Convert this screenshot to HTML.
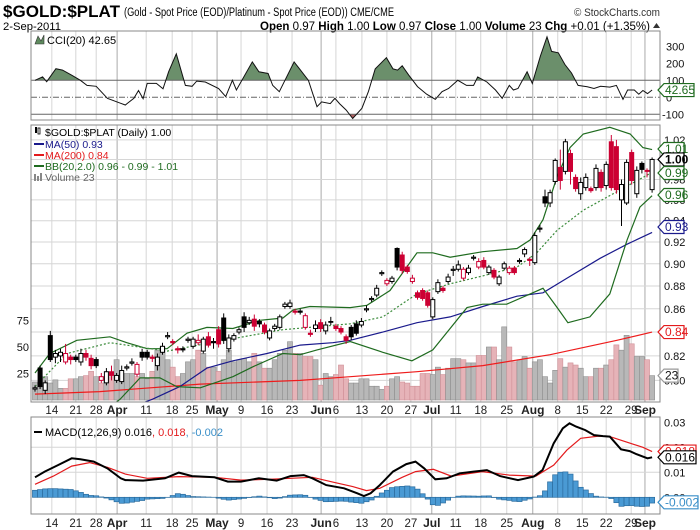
<!DOCTYPE html>
<html><head><meta charset="utf-8">
<style>
body{margin:0;background:#fff;width:700px;height:530px;overflow:hidden}
svg{display:block;font-family:"Liberation Sans",Arial,sans-serif}
.ax{font-size:11px;fill:#111}
.lg{font-size:10.5px}
</style></head>
<body>
<svg id="chart" width="700" height="530" viewBox="0 0 700 530">
<defs>
<clipPath id="cpC"><rect x="31" y="31" width="629" height="89"/></clipPath>
<clipPath id="cpCup"><rect x="31" y="31" width="629" height="49.3"/></clipPath>
<clipPath id="cpCdn"><rect x="31" y="114.3" width="629" height="6"/></clipPath>
<clipPath id="cpP"><rect x="31" y="125" width="629" height="277"/></clipPath>
<clipPath id="cpM"><rect x="31" y="417" width="629" height="97"/></clipPath>
</defs>
<rect x="0" y="0" width="700" height="530" fill="#fff"/>
<text x="3" y="17" font-size="17" font-weight="bold" textLength="117" lengthAdjust="spacingAndGlyphs">$GOLD:$PLAT</text>
<text x="124" y="16" font-size="11.5" textLength="270" lengthAdjust="spacingAndGlyphs">(Gold - Spot Price (EOD)/Platinum  - Spot Price (EOD)) CME/CME</text>
<text x="574" y="16" font-size="11" fill="#333" textLength="86" lengthAdjust="spacingAndGlyphs">© StockCharts.com</text>
<text x="3" y="30" font-size="11" textLength="58" lengthAdjust="spacingAndGlyphs">2-Sep-2011</text>
<text x="260" y="30" font-size="11.5" textLength="390" lengthAdjust="spacingAndGlyphs"><tspan font-weight="bold">Open</tspan> 0.97 <tspan font-weight="bold">High</tspan> 1.00 <tspan font-weight="bold">Low</tspan> 0.97 <tspan font-weight="bold">Close</tspan> 1.00 <tspan font-weight="bold">Volume</tspan> 23 <tspan font-weight="bold">Chg</tspan> +0.01 (+1.35%)</text>
<polygon points="653,28 660,28 656.5,23" fill="#333"/>

<g id="grid"></g>
<g id="cci"></g>
<g id="vol" clip-path="url(#cpP)"></g>
<g id="lines" clip-path="url(#cpP)"></g>
<g id="price" clip-path="url(#cpP)"></g>
<g id="macd"></g>
<g id="axes"></g>

<rect x="31" y="31" width="629" height="89" fill="none" stroke="#888"/>
<rect x="31" y="125" width="629" height="277" fill="none" stroke="#888"/>
<rect x="31" y="417" width="629" height="97" fill="none" stroke="#888"/>

<g>
<polygon points="35,44 38,36 41,41 44,35 44,44" fill="#5e8a5e" stroke="#333" stroke-width="0.6"/>
<text x="47" y="44" font-size="11">CCI(20) 42.65</text>
</g>
<g class="lg">
<g><rect x="35" y="127" width="2" height="6" fill="#000"/><rect x="38" y="128" width="2" height="6" fill="none" stroke="#000" stroke-width="0.8"/><text x="45" y="136">$GOLD:$PLAT (Daily) 1.00</text></g>
<g><line x1="34" y1="144" x2="44" y2="144" stroke="#1a1a8c" stroke-width="2"/><text x="45" y="148" fill="#1a1a8c">MA(50) 0.93</text></g>
<g><line x1="34" y1="155" x2="44" y2="155" stroke="#e31a1c" stroke-width="2"/><text x="45" y="159" fill="#e31a1c">MA(200) 0.84</text></g>
<g><line x1="34" y1="166" x2="44" y2="166" stroke="#1f6b1f" stroke-width="2"/><text x="45" y="170" fill="#1f6b1f">BB(20,2.0) 0.96 - 0.99 - 1.01</text></g>
<g><rect x="34" y="174" width="2" height="7" fill="#888"/><rect x="37" y="176" width="2" height="5" fill="#888"/><rect x="40" y="173" width="2" height="8" fill="#888"/><text x="45" y="181" fill="#666">Volume 23</text></g>
</g>
<g>
<line x1="34" y1="432" x2="42" y2="432" stroke="#000" stroke-width="2"/>
<text x="45" y="436" font-size="11">MACD(12,26,9) 0.016<tspan fill="#e31a1c">, 0.018</tspan><tspan fill="#3a8fc8">, -0.002</tspan></text>
</g>
<g id="markers"></g>
</svg>
<script>
// ---------- data ----------
const opens=[.793,.810,.792,.837,.819,.820,.815,.819,.819,.815,.822,.818,.817,.800,.798,.807,.800,.799,.810,.814,.805,.823,.823,.819,.812,.823,.836,.832,.826,.826,.833,.828,.831,.824,.836,.832,.842,.852,.826,.834,.840,.853,.848,.851,.849,.846,.835,.843,.844,.862,.862,.858,.858,.844,.839,.843,.848,.841,.849,.845,.843,.836,.844,.847,.846,.859,.868,.872,.891,.882,.884,.914,.908,.897,.884,.874,.876,.874,.853,.875,.878,.884,.894,.895,.887,.892,.905,.897,.903,.892,.894,.882,.896,.892,.896,.902,.909,.904,.901,.932,.963,.957,.978,.992,.988,1.006,.982,.966,.972,.971,.972,.987,.974,1.018,1.013,.960,.957,1.007,.966,.996,.989,.970];
const closes=[.794,.795,.798,.817,.822,.823,.822,.817,.817,.822,.819,.812,.812,.803,.807,.804,.804,.808,.811,.815,.813,.819,.819,.818,.819,.828,.837,.831,.825,.825,.834,.834,.833,.834,.829,.831,.830,.833,.835,.837,.842,.844,.850,.845,.847,.840,.841,.845,.853,.864,.865,.857,.857,.854,.838,.846,.843,.846,.849,.843,.840,.833,.836,.839,.849,.860,.869,.878,.892,.885,.887,.897,.894,.893,.887,.870,.869,.863,.868,.883,.876,.888,.895,.899,.895,.896,.906,.902,.897,.897,.888,.888,.900,.896,.892,.903,.913,.903,.926,.933,.957,.967,.999,.979,1.018,.988,.971,.977,.982,.969,.991,.972,.995,.972,.970,.975,.997,.979,.989,.990,.988,1.000];
const highs=[.796,.812,.800,.841,.825,.826,.830,.821,.821,.826,.825,.821,.819,.806,.810,.812,.806,.812,.813,.818,.815,.826,.825,.821,.822,.831,.840,.834,.828,.828,.836,.836,.838,.836,.840,.835,.845,.856,.838,.839,.844,.857,.853,.855,.851,.848,.843,.847,.855,.866,.868,.860,.860,.856,.842,.850,.851,.849,.853,.847,.845,.838,.846,.850,.852,.863,.871,.881,.894,.887,.889,.915,.911,.899,.890,.876,.878,.876,.870,.886,.880,.891,.898,.903,.897,.899,.908,.905,.906,.899,.896,.890,.902,.898,.898,.905,.915,.906,.929,.936,.970,.970,1.001,1.010,1.021,1.010,.985,.982,.986,.973,.995,.990,.998,1.025,1.020,.980,1.000,1.010,.993,.998,.991,1.002];
const lows=[.791,.793,.789,.815,.814,.815,.813,.813,.815,.812,.816,.809,.810,.798,.796,.800,.798,.797,.808,.812,.803,.816,.817,.815,.808,.821,.834,.829,.822,.823,.831,.826,.829,.822,.827,.826,.827,.830,.823,.832,.838,.840,.846,.841,.844,.838,.833,.841,.842,.860,.860,.855,.855,.842,.836,.840,.840,.838,.846,.841,.838,.830,.833,.837,.844,.857,.866,.870,.889,.880,.882,.894,.891,.891,.882,.868,.867,.861,.851,.873,.874,.882,.889,.893,.885,.890,.903,.895,.895,.890,.886,.880,.894,.890,.890,.900,.906,.898,.899,.929,.953,.953,.975,.970,.985,.975,.968,.960,.969,.967,.969,.968,.970,.969,.966,.935,.955,.975,.962,.986,.982,.967];
const volumes=[17,17,22,16,19,11,11,20,20,22,23,27,22,16,22,22,38,25,25,25,22,25,20,27,47,50,38,31,22,25,36,38,47,44,31,31,27,38,47,36,38,39,36,44,36,30,30,38,44,47,55,44,44,41,41,38,14,25,22,24,33,20,16,16,20,20,13,13,10,13,20,22,17,16,13,13,25,25,24,31,24,30,39,39,38,35,35,42,42,50,50,38,69,50,36,38,41,30,36,38,22,16,28,39,31,35,33,30,22,22,30,30,33,38,52,47,61,53,41,41,38,23];

const ma50Idx=[10,23.1,28.4,33.7,38.8,45.5,52,58.4,61.8,68.2,74.9,81.4,87.8,94.5,99.6,104.3,110.8,116.1,121];
const ma50Val=[.765,.785,.795,.810,.816,.822,.829,.831,.833,.840,.848,.853,.862,.871,.874,.887,.905,.918,.929];
const ma200Idx=[0,12.7,32.4,52,61.8,74.9,87.8,101,114.1,121];
const ma200Val=[.789,.791,.797,.800,.803,.807,.812,.821,.833,.840];
const bbUpIdx=[0,2.9,8.2,14.7,18,22,25.9,29.8,33.7,38.8,44.1,48.6,50.6,53.9,61.8,65.1,69.6,74.9,78,81.4,87.8,94.5,97.1,99.6,102.4,104.9,107.5,112.7,116.7,119.2,121];
const bbUpVal=[.806,.822,.833,.836,.831,.826,.826,.839,.844,.843,.850,.852,.859,.862,.861,.863,.876,.910,.910,.906,.911,.914,.922,.941,.983,1.012,1.026,1.033,1.026,1.012,1.010];
const bbLoIdx=[12,16.7,20.6,24.5,27.8,32.4,38.8,42.7,48.6,52,55.3,61.8,68.2,73.9,78,81.4,84.7,87.8,92.5,97.1,99.6,102.4,104.5,108.8,112.7,116.1,118.6,121];
const bbLoVal=[.770,.785,.802,.802,.795,.794,.803,.811,.822,.821,.825,.832,.823,.816,.825,.843,.861,.864,.864,.873,.878,.861,.848,.853,.873,.922,.953,.964];
const bbMidIdx=[0,6.3,14.7,25.9,35.7,48.6,61.8,68.2,74.9,81.4,87.8,94.5,98.4,102.4,107.5,114.1,121];
const bbMidVal=[.795,.822,.831,.824,.832,.842,.847,.853,.873,.882,.889,.897,.910,.931,.950,.968,.987];

const cciIdx=[0,1.5,2.3,4.1,5.4,7.2,8.9,10.2,12,14.2,16.8,17.7,19.4,20.3,21.2,22,23.8,25.1,26.2,27.7,29.5,30.8,31.7,33.4,36,37.4,38.7,39.5,42.6,43.9,45.7,46.6,47.9,50.8,51.8,53.6,55.3,56.2,57.9,58.8,59.7,61,62.3,64.1,65.4,66.7,68.9,70.2,71.1,72,73.3,75,76.8,78.5,79.8,81.1,82.9,84.6,86,86.8,88.6,90.3,91.6,93,93.8,94.7,96.5,97.5,99.1,100.4,101.3,102.6,103.9,105.2,106.5,108.3,109.6,110.9,112.7,114,115.3,116.2,117.5,118.4,119.2,120.1,121];
const cciVal=[100,120,92,168,160,130,100,70,65,-6,-35,-45,-6,40,-8,82,82,50,150,255,70,65,95,90,52,4,100,43,208,150,140,70,33,208,170,100,-55,-27,-37,-6,-37,-75,-125,-65,35,167,233,167,160,185,130,63,18,-12,33,52,100,70,70,120,90,43,-6,70,43,52,150,82,243,356,270,262,193,143,70,62,52,65,60,70,-12,43,43,18,40,22,43];

const macdIdx=[0,1.9,4.5,7.2,8.9,11.5,14.2,16.8,17.7,21.2,25.5,28.2,30.8,35.2,37.8,40.4,43.9,47.4,50.1,52.7,54.4,57.1,60.6,63.2,64.5,65.8,67.6,70.2,72.8,74.6,76.3,78.5,80.7,83.3,86,88.6,91.2,94.7,97.8,99.5,101.7,103.5,104.8,106.1,107.9,109.6,111.4,112.7,114.9,116.6,117.9,120.1,121];
const macdVal=[.008,.0103,.0129,.0156,.0152,.0143,.0116,.0076,.0069,.0067,.0076,.0099,.0085,.008,.0063,.0063,.0076,.0067,.0085,.0089,.0076,.0049,.0036,.0016,.0005,.0016,.0049,.0103,.0133,.0143,.0116,.0072,.0076,.0096,.0103,.0109,.0085,.0069,.0083,.0109,.0216,.0276,.0296,.0283,.0269,.0249,.0245,.0243,.0192,.0185,.0173,.0156,.016];
const sigIdx=[0,3.6,7.2,10.7,14.2,17.7,22,28.2,35.2,40.4,45.7,50.1,54.4,58.8,62.3,65,67.6,72,74.6,78.1,81.6,87.7,93,98.2,101.7,104.3,107,110.5,112.7,115.7,119.2,121];
const sigVal=[.0052,.0085,.0125,.0139,.012,.0093,.0076,.0083,.008,.0069,.0072,.0076,.008,.0059,.0043,.0027,.0036,.008,.0103,.0112,.0085,.0103,.0089,.0085,.0129,.0189,.0236,.0245,.0243,.0223,.02,.0183];

const tickIdx=[3.3,8,12,16.1,21.8,26.9,30.8,35.7,40.4,45.5,50.4,56.1,59,64.1,69,73.7,77.8,82.5,87.4,92.5,97.6,102.5,107.3,112,116.9,119.6];
const tickLabels=['14','21','28','Apr','11','18','25','May','9','16','23','Jun','6','13','20','27','Jul','11','18','25','Aug','8','15','22','29','Sep'];
const priceTicks=[1.02,1.00,0.98,0.96,0.94,0.92,0.90,0.88,0.86,0.84,0.82,0.80];
const volTicks=[25,50,75];
const cciTicks=[300,200,100,0,-100];
const macdTicks=[0.03,0.02,0.01,0.00];

// ---------- axes ----------
const xI=i=>35+5.1*i;
const yP=p=>242-990*Math.log(p/0.92);
const yV=v=>400-v*1.06;
const yC=c=>97.3-c*0.17;
const yM=m=>497.3-m*2500;

const NS='http://www.w3.org/2000/svg';
function mk(tag,attrs,parent){const e=document.createElementNS(NS,tag);for(const k in attrs)e.setAttribute(k,attrs[k]);parent.appendChild(e);return e;}
const G=id=>document.getElementById(id);
function interp(idx,val,i){if(i<=idx[0])return val[0];for(let k=1;k<idx.length;k++){if(i<=idx[k]){const t=(i-idx[k-1])/(idx[k]-idx[k-1]);return val[k-1]+t*(val[k]-val[k-1]);}}return val[val.length-1];}
function pts(idx,val,f){return idx.map((i,k)=>xI(i).toFixed(1)+','+f(val[k]).toFixed(1)).join(' ');}

// grid
const grid=G('grid');
tickIdx.forEach((ti,k)=>{
  const month=isNaN(+tickLabels[k]);
  [[31,120],[125,402],[417,514]].forEach(([a,b])=>{
    const l=mk('line',{x1:xI(ti),x2:xI(ti),y1:a,y2:b,stroke:month?'#aaa':'#d6d6d6','stroke-width':1},grid);
    
    
  });
});
priceTicks.forEach(p=>{
  const l=mk('line',{x1:31,x2:660,y1:yP(p),y2:yP(p),stroke:'#d6d6d6'},grid);
  
  
});
[0.01,0.02].forEach(m=>{
  const l=mk('line',{x1:31,x2:660,y1:yM(m),y2:yM(m),stroke:'#d6d6d6'},grid);
  
  
});

// axis labels
const axes=G('axes');
tickIdx.forEach((ti,k)=>{
  const month=isNaN(+tickLabels[k]);
  [414,527].forEach(y=>{
    const t=mk('text',{x:xI(ti),y:y,'text-anchor':'middle','font-size':month?12:11.5,'font-weight':month?'bold':'normal',fill:'#222'},axes);
    t.textContent=tickLabels[k];
    
    
  });
});
priceTicks.forEach(p=>{
  const t=mk('text',{x:664,y:yP(p)+4,class:'ax'},axes);
  t.textContent=p.toFixed(2);
  
  
});
volTicks.forEach(v=>{
  const t=mk('text',{x:29,y:yV(v)+4,class:'ax','text-anchor':'end'},axes);
  t.textContent=v;
  
  
});
cciTicks.forEach(c=>{
  const t=mk('text',{x:c<0?662:666,y:yC(c)+4,class:'ax'},axes);
  t.textContent=c;
  
  
});
macdTicks.forEach(m=>{
  const t=mk('text',{x:664,y:yM(m)+4,class:'ax'},axes);
  t.textContent=m.toFixed(2);
  
  
});

// CCI
const cci=G('cci');
const cp=pts(cciIdx,cciVal,yC);
const x0=xI(cciIdx[0]),x1=xI(cciIdx[cciIdx.length-1]);
const fu=mk('polygon',{points:cp+` ${x1},${yC(100)} ${x0},${yC(100)}`,fill:'#6b8f6b','clip-path':'url(#cpCup)'},cci);


const fd=mk('polygon',{points:cp+` ${x1},${yC(-100)} ${x0},${yC(-100)}`,fill:'#b06060','clip-path':'url(#cpCdn)'},cci);


[100,-100].forEach(c=>{
  const l=mk('line',{x1:31,x2:660,y1:yC(c),y2:yC(c),stroke:'#666'},cci);
  
  
});
const z=mk('line',{x1:31,x2:660,y1:yC(0),y2:yC(0),stroke:'#666','stroke-dasharray':'6,2,1,2'},cci);


const cl=mk('polyline',{points:cp,fill:'none',stroke:'#111','stroke-width':1,'clip-path':'url(#cpC)'},cci);



// volume
const vol=G('vol');
volumes.forEach((v,i)=>{
  const down=i>0&&closes[i]<closes[i-1];
  const r=mk('rect',{x:xI(i)-2.55,y:yV(v),width:5.1,height:yV(0)-yV(v),fill:down?'#e6b3b8':'#b8b8b8',stroke:down?'#cf8f96':'#8e8e8e','stroke-width':0.6},vol);
  
  
});

// overlay lines
const lines=G('lines');
function poly(idx,val,stroke,w,dash,name){
  const p=mk('polyline',{points:pts(idx,val,yP),fill:'none',stroke:stroke,'stroke-width':w},lines);
  if(dash)p.setAttribute('stroke-dasharray',dash);
  
  
}
poly(ma200Idx,ma200Val,'#ee1c1c',1.2,null,'ma200-line');
poly(ma50Idx,ma50Val,'#1a1a8c',1.2,null,'ma50-line');
poly(bbUpIdx,bbUpVal,'#1f6b1f',1.2,null,'bb-upper-line');
poly(bbLoIdx,bbLoVal,'#1f6b1f',1.2,null,'bb-lower-line');
poly(bbMidIdx,bbMidVal,'#3c8c3c',1.2,'2,2','bb-middle-line');

// candles
const price=G('price');
opens.forEach((o,i)=>{
  const c=closes[i];
  const col=(i>0&&c<closes[i-1])?'#cc0033':'#000';
  const x=xI(i);
  const w=mk('line',{x1:x,x2:x,y1:yP(highs[i]),y2:yP(lows[i]),stroke:col,'stroke-width':1},price);
  
  
  const top=yP(Math.max(o,c)),bot=yP(Math.min(o,c));
  const b=mk('rect',{x:x-2,y:top,width:4,height:Math.max(bot-top,0.8),fill:c>o?'#fff':col,stroke:col,'stroke-width':1},price);
  
  
});

// MACD
const macd=G('macd');
for(let i=0;i<opens.length;i++){
  const h=interp(macdIdx,macdVal,i)-interp(sigIdx,sigVal,i);
  const y0=yM(0),y1=yM(h);
  const r=mk('rect',{x:xI(i)-2.55,y:Math.min(y0,y1),width:5.1,height:Math.abs(y1-y0),fill:'#4a9ad4',stroke:'#2b6c9e','stroke-width':0.7},macd);
  
  
}
const sl=mk('polyline',{points:pts(sigIdx,sigVal,yM),fill:'none',stroke:'#e31a1c','stroke-width':1.2},macd);


const ml=mk('polyline',{points:pts(macdIdx,macdVal,yM),fill:'none',stroke:'#000','stroke-width':2},macd);



// value markers
const mkG=G('markers');
function marker(y,label,color,w,bold,name){
  const p=mk('polygon',{points:`658,${y} 664,${y-6.5} ${664+w},${y-6.5} ${664+w},${y+6.5} 664,${y+6.5}`,fill:'#fff',stroke:color,'stroke-width':1.2},mkG);
  
  
  const t=mk('text',{x:665,y:y+4,'font-size':12,fill:bold?'#000':color==='#999'?'#111':color,'font-weight':bold?'bold':'normal'},mkG);
  t.textContent=label;
  
  
}
marker(yC(42.65),'42.65','#1f6b1f',30,false,'cci-value-marker');
marker(149,'1.01','#1f6b1f',20,false,'bb-upper-marker');
marker(yP(1.00),'1.00','#000',20,true,'close-marker');
marker(173,'0.99','#1f6b1f',20,false,'bb-middle-marker');
marker(195,'0.96','#1f6b1f',20,false,'bb-lower-marker');
marker(227,'0.93','#1a1a8c',20,false,'ma50-marker');
marker(yP(0.84),'0.84','#e31a1c',20,false,'ma200-marker');
marker(yV(23),'23','#999',14,false,'volume-marker');
marker(yM(0.0183),'0.018','#e31a1c',32,false,'signal-marker');
marker(yM(0.016),'0.016','#000',32,false,'macd-marker');
marker(yM(-0.002),'-0.002','#3a8fc8',34,false,'histogram-marker');
</script>
</body></html>
